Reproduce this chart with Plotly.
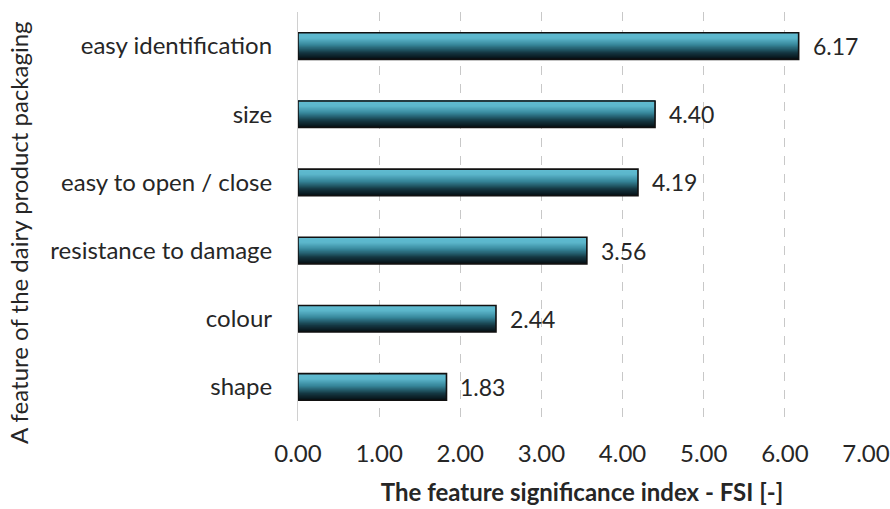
import plotly.graph_objects as go

# ---- data (bottom to top) ----
categories = ["shape", "colour", "resistance to damage", "easy to open / close", "size", "easy identification"]
fsi_values = [1.83, 2.44, 3.56, 4.19, 4.40, 6.17]
x_ticks = [0, 1, 2, 3, 4, 5, 6, 7]
x_tick_labels = ["0.00", "1.00", "2.00", "3.00", "4.00", "5.00", "6.00", "7.00"]

FONT = "Lato"
TXT = "#262626"
BAR_W = 0.39
N_STRIPES = 26

# gradient stops from bottom (t=0) to top (t=1)
stops = [(0.0, (6, 14, 18)), (0.25, (20, 55, 66)), (0.55, (55, 135, 155)), (0.8, (92, 182, 203)), (1.0, (96, 188, 208))]


def grad(t):
    for (t0, c0), (t1, c1) in zip(stops[:-1], stops[1:]):
        if t0 <= t <= t1:
            f = (t - t0) / (t1 - t0) if t1 > t0 else 0
            c = [round(a + (b - a) * f) for a, b in zip(c0, c1)]
            return f"rgb({c[0]},{c[1]},{c[2]})"
    return f"rgb{stops[-1][1]}"


fig = go.Figure()

# gradient built from overlaid bars; each stripe extends to the top edge
for i in range(N_STRIPES):
    off = -BAR_W / 2 + i * BAR_W / N_STRIPES
    fig.add_trace(go.Bar(
        x=fsi_values, y=categories, orientation="h",
        offset=off, width=BAR_W - i * BAR_W / N_STRIPES,
        marker=dict(color=grad((i + 0.5) / N_STRIPES), line=dict(width=0)),
        hoverinfo="skip", showlegend=False,
    ))

# outline
fig.add_trace(go.Bar(
    x=fsi_values, y=categories, orientation="h",
    offset=-BAR_W / 2, width=BAR_W,
    marker=dict(color="rgba(0,0,0,0)", line=dict(color="#111111", width=1.6)),
    showlegend=False,
))

for v, c in zip(fsi_values, categories):
    fig.add_annotation(x=v, y=c, text=f"{v:.2f}", showarrow=False,
                       xanchor="left", xshift=12, yshift=0,
                       font=dict(family=FONT, size=23, color=TXT))

fig.add_annotation(xref="paper", yref="paper", x=-(298 - 18) / 568, y=(421 - 233) / 409,
                   text="A feature of the dairy product packaging", textangle=-90,
                   showarrow=False, xanchor="center", yanchor="middle",
                   font=dict(family=FONT, size=24, color=TXT))

fig.update_layout(
    width=890, height=509,
    margin=dict(l=298, r=24, t=12, b=88, autoexpand=False),
    paper_bgcolor="white", plot_bgcolor="white",
    barmode="overlay",
    font=dict(family=FONT, size=24, color=TXT),
    xaxis=dict(
        range=[0, 7], tickvals=x_ticks, ticktext=x_tick_labels,
        showgrid=True, gridcolor="#c8c8c8", griddash="dash", gridwidth=1.2,
        zeroline=False, showline=False, ticks="", ticklabelstandoff=16,
        automargin=False,
        tickfont=dict(family=FONT, size=24, color=TXT),
        title=dict(text="<b>The feature significance index - FSI [-]</b>", standoff=18,
                   font=dict(family=FONT, size=24, color=TXT)),
        fixedrange=True,
    ),
    yaxis=dict(
        type="category", categoryorder="array", categoryarray=categories,
        range=[-0.5, 5.5], showgrid=False, zeroline=False,
        showline=True, linecolor="#d0d0d0", linewidth=1.2,
        ticks="", ticklabelstandoff=20, automargin=False,
        tickfont=dict(family=FONT, size=24, color=TXT),
        fixedrange=True,
    ),
)

fig.write_html("out.html")
